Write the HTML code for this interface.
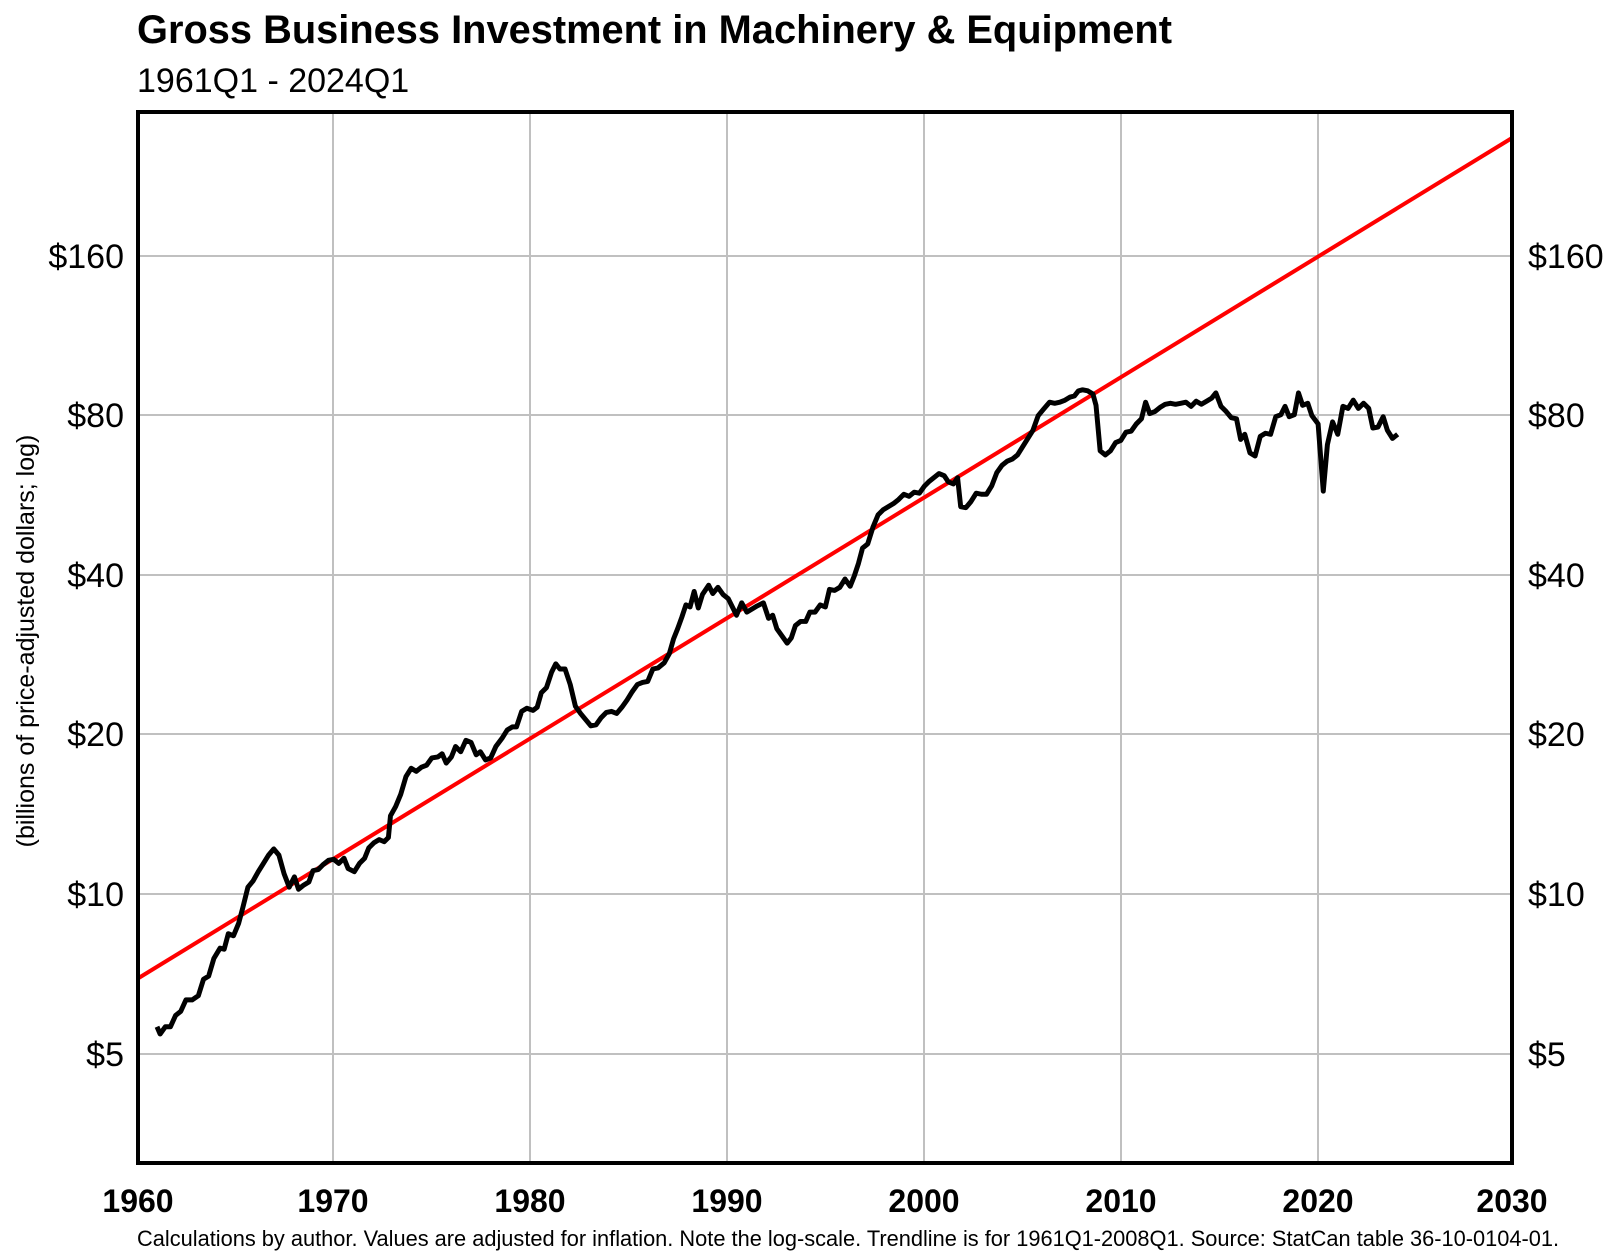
<!DOCTYPE html>
<html><head><meta charset="utf-8"><style>
html,body{margin:0;padding:0;background:#fff;}
svg{display:block;font-family:"Liberation Sans",Arial,sans-serif;}
</style></head><body>
<svg width="1620" height="1260" viewBox="0 0 1620 1260" xmlns="http://www.w3.org/2000/svg">
<rect width="1620" height="1260" fill="#fff"/>
<text x="137" y="43" font-size="39.8" font-weight="bold">Gross Business Investment in Machinery &amp; Equipment</text>
<text x="137" y="92" font-size="34">1961Q1 - 2024Q1</text>
<g stroke="#c0c0c0" stroke-width="2">
<line x1="333" y1="112" x2="333" y2="1163"/><line x1="530" y1="112" x2="530" y2="1163"/>
<line x1="727" y1="112" x2="727" y2="1163"/><line x1="924" y1="112" x2="924" y2="1163"/>
<line x1="1121" y1="112" x2="1121" y2="1163"/><line x1="1318" y1="112" x2="1318" y2="1163"/>
<line x1="137" y1="256" x2="1512" y2="256"/><line x1="137" y1="415" x2="1512" y2="415"/>
<line x1="137" y1="575" x2="1512" y2="575"/><line x1="137" y1="734" x2="1512" y2="734"/>
<line x1="137" y1="894" x2="1512" y2="894"/><line x1="137" y1="1054" x2="1512" y2="1054"/>
</g>
<line x1="137" y1="979" x2="1512" y2="138" stroke="#f00" stroke-width="4"/>
<polyline fill="none" stroke="#000" stroke-width="4.8" stroke-linejoin="round" transform="scale(1.033,1.034)" points="152,993 155,1000 160,993 165,993 170,982 175,978 180,967 186,967 192,963 197,947 202,944 207,927 213,917 217,918 221,903 226,905 231,893 235,878 240,858 245,852 250,843 255,835 260,827 265,821 270,827 275,845 280,858 285,848 289,860 294,856 299,853 303,842 308,841 313,836 318,832 323,831 328,835 333,830 337,840 343,843 348,835 353,830 357,820 362,815 367,812 372,814 376,810 378,789 383,780 388,768 393,751 398,743 403,746 408,742 413,740 418,733 424,732 428,729 432,738 437,732 441,722 446,727 451,716 456,718 461,730 465,727 470,735 475,733 480,722 486,714 491,706 496,703 500,703 505,688 510,685 516,687 520,684 524,670 529,665 534,650 538,642 542,647 547,647 552,662 557,683 562,690 567,696 572,702 577,701 582,694 587,689 592,688 597,690 602,684 607,677 612,669 617,662 622,660 627,659 632,647 637,646 643,641 648,632 652,618 656,608 660,597 664,585 668,587 672,572 676,588 680,575 686,566 690,574 695,568 700,575 705,579 709,587 713,595 718,583 723,592 728,589 733,586 739,583 744,598 748,595 752,608 757,615 762,622 766,617 770,605 775,601 780,601 784,592 789,592 794,585 799,587 803,570 808,571 813,568 818,560 823,567 827,557 831,545 835,530 840,526 845,510 850,498 855,493 860,490 865,487 870,483 875,478 880,480 885,476 890,477 895,470 899,466 904,462 909,458 914,460 918,466 923,468 927,462 930,490 935,491 940,485 945,477 950,478 955,478 960,470 965,457 970,450 975,446 980,444 985,440 990,432 995,424 1000,416 1005,402 1010,396 1016,389 1021,390 1026,389 1031,387 1036,384 1040,383 1044,378 1048,377 1053,378 1058,381 1061,392 1065,436 1070,440 1075,436 1080,428 1085,426 1090,418 1095,417 1100,410 1105,405 1109,389 1113,400 1118,398 1123,394 1128,391 1133,390 1138,391 1143,390 1148,389 1153,393 1158,388 1163,391 1168,388 1173,385 1177,380 1182,393 1187,398 1192,404 1197,405 1201,425 1205,420 1210,438 1215,441 1220,422 1225,419 1230,420 1235,403 1240,401 1244,393 1248,403 1253,401 1257,380 1261,392 1266,390 1270,402 1276,410 1281,475 1285,430 1290,408 1295,420 1300,393 1305,395 1310,387 1315,395 1320,390 1325,395 1329,414 1334,413 1339,403 1343,416 1348,424 1353,420"/>
<rect x="138" y="112" width="1374" height="1051" fill="none" stroke="#000" stroke-width="4"/>
<g font-size="34" text-anchor="end">
<text x="124" y="268">$160</text><text x="124" y="427">$80</text><text x="124" y="587">$40</text>
<text x="124" y="746">$20</text><text x="124" y="906">$10</text><text x="124" y="1066">$5</text>
</g>
<g font-size="34" text-anchor="start">
<text x="1528" y="268">$160</text><text x="1528" y="427">$80</text><text x="1528" y="587">$40</text>
<text x="1528" y="746">$20</text><text x="1528" y="906">$10</text><text x="1528" y="1066">$5</text>
</g>
<g font-size="32" font-weight="bold" text-anchor="middle">
<text x="138" y="1212">1960</text><text x="333" y="1212">1970</text><text x="530" y="1212">1980</text>
<text x="727" y="1212">1990</text><text x="924" y="1212">2000</text><text x="1121" y="1212">2010</text>
<text x="1318" y="1212">2020</text><text x="1512" y="1212">2030</text>
</g>
<text transform="translate(34,641) rotate(-90)" font-size="25" text-anchor="middle">(billions of price-adjusted dollars; log)</text>
<text x="137" y="1246" font-size="21.8">Calculations by author. Values are adjusted for inflation. Note the log-scale. Trendline is for 1961Q1-2008Q1. Source: StatCan table 36-10-0104-01.</text>
</svg>
</body></html>
